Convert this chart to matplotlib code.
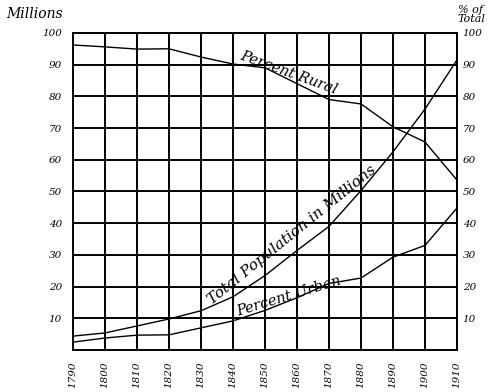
import matplotlib
matplotlib.use("Agg")
import matplotlib.pyplot as plt
import numpy as np

years = [1790, 1800, 1810, 1820, 1830, 1840, 1850, 1860, 1870, 1880, 1890, 1900, 1910]
total_pop = [4.4, 5.4, 7.6, 9.8, 12.4, 16.8, 23.5, 31.4, 39.0, 50.3, 62.5, 76.0, 91.5]
pct_urban = [2.5, 3.8, 4.7, 4.8, 7.0, 9.2, 12.5, 16.5, 21.0, 22.7, 29.3, 33.0, 44.8]
pct_rural = [96.2, 95.6, 94.9, 95.0, 92.4, 90.2, 89.0, 84.0, 79.0, 77.6, 70.4, 65.6, 53.6]
left_ticks = [10, 20, 30, 40, 50, 60, 70, 80, 90, 100]
right_ticks = [10, 20, 30, 40, 50, 60, 70, 80, 90, 100]

font = dict(family="DejaVu Serif", style="italic")

fig = plt.figure(figsize=(5, 3.92), dpi=100)
ax = fig.add_axes([0.146, 0.107, 0.768, 0.809])
ax.set_xlim(1790, 1910)
ax.set_ylim(0, 100)

for x in years:
    ax.axvline(x, color="black", lw=1.4, zorder=1)
for y in left_ticks:
    ax.axhline(y, color="black", lw=1.4, zorder=1)
for s in ax.spines.values():
    s.set_linewidth(1.4)

ax.plot(years, total_pop, color="black", lw=1.0, zorder=3)
ax.plot(years, pct_urban, color="black", lw=1.0, zorder=3)
ax.plot(years, pct_rural, color="black", lw=1.0, zorder=3)

ax.set_xticks(years)
ax.set_xticklabels([str(y) for y in years], rotation=90, fontsize=7.5, **font)
ax.set_yticks(left_ticks)
ax.set_yticklabels([str(t) for t in left_ticks], fontsize=7.5, **font)
ax.tick_params(length=0, pad=8)

ax2 = ax.twinx()
ax2.set_ylim(0, 100)
ax2.set_yticks(right_ticks)
ax2.set_yticklabels([str(t) for t in right_ticks], fontsize=7.5, **font)
ax2.tick_params(length=0, pad=4)
for s in ax2.spines.values():
    s.set_visible(False)

fig.text(0.012, 0.955, "Millions", fontsize=10, **font)
fig.text(0.915, 0.945, "% of\nTotal", fontsize=8, linespacing=0.8, **font)

ax.text(1841.5, 91.0, "Percent Rural", rotation=-20, fontsize=10.5,
        ha="left", va="bottom", rotation_mode="anchor", **font)
ax.text(1834, 13.5, "Total Population in Millions", rotation=39, fontsize=11,
        ha="left", va="bottom", rotation_mode="anchor", **font)
ax.text(1842, 9.8, "Percent Urban", rotation=17, fontsize=10.5,
        ha="left", va="bottom", rotation_mode="anchor", **font)

fig.savefig("out.png", dpi=100)
